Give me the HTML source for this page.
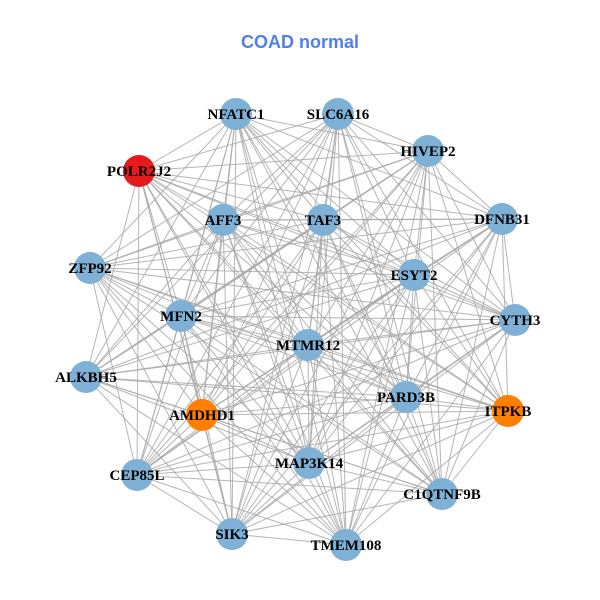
<!DOCTYPE html>
<html><head><meta charset="utf-8">
<style>
html,body{margin:0;padding:0;background:#fff;width:600px;height:600px;overflow:hidden}
svg text{font-family:"Liberation Serif",serif;font-weight:bold;font-size:15px;fill:#000}
</style></head>
<body>
<svg id="g" width="600" height="600" xmlns="http://www.w3.org/2000/svg">
<text x="300" y="48" text-anchor="middle" style="font-family:'Liberation Sans',sans-serif;font-size:18px;fill:#4f7ff0;font-weight:bold">COAD normal</text>
<g id="edges" stroke="#a8a8a8" stroke-width="1" stroke-opacity="0.85"></g>
<g id="nodes"></g>
<g id="labels"></g>
</svg>
<script>
var N=[
["NFATC1",236,114,"#7fb0d6"],["SLC6A16",338,114,"#7fb0d6"],["HIVEP2",428,151,"#7fb0d6"],
["POLR2J2",139,171,"#e41a1c"],["AFF3",223,220,"#7fb0d6"],["TAF3",323,220,"#7fb0d6"],
["DFNB31",502,219,"#7fb0d6"],["ZFP92",90,268,"#7fb0d6"],["ESYT2",414,275,"#7fb0d6"],
["MFN2",181,316,"#7fb0d6"],["CYTH3",515,320,"#7fb0d6"],["MTMR12",308,345,"#7fb0d6"],
["ALKBH5",86,377,"#7fb0d6"],["PARD3B",406,397,"#7fb0d6"],["AMDHD1",202,415,"#ff7f00"],
["ITPKB",508,411,"#ff7f00"],["MAP3K14",309,463,"#7fb0d6"],["CEP85L",137,475,"#7fb0d6"],
["C1QTNF9B",442,494,"#7fb0d6"],["SIK3",232,534,"#7fb0d6"],["TMEM108",346,545,"#7fb0d6"]];
var ns="http://www.w3.org/2000/svg";
var E=document.getElementById("edges"),Nd=document.getElementById("nodes"),L=document.getElementById("labels");
var skip={"0-1":1,"12-17":1,"7-12":1,"10-15":1,"18-20":1,"3-7":1};
for(var i=0;i<N.length;i++)for(var j=i+1;j<N.length;j++){
 if(skip[i+"-"+j])continue;
 var l=document.createElementNS(ns,"line");
 l.setAttribute("x1",N[i][1]);l.setAttribute("y1",N[i][2]);
 l.setAttribute("x2",N[j][1]);l.setAttribute("y2",N[j][2]);E.appendChild(l);}
N.forEach(function(n){
 var c=document.createElementNS(ns,"circle");
 c.setAttribute("cx",n[1]);c.setAttribute("cy",n[2]);c.setAttribute("r",16);
 c.setAttribute("fill",n[3]);Nd.appendChild(c);
 var t=document.createElementNS(ns,"text");
 t.setAttribute("x",n[1]);t.setAttribute("y",n[2]+5);t.setAttribute("text-anchor","middle");
 t.textContent=n[0];L.appendChild(t);});
</script>
</body></html>
